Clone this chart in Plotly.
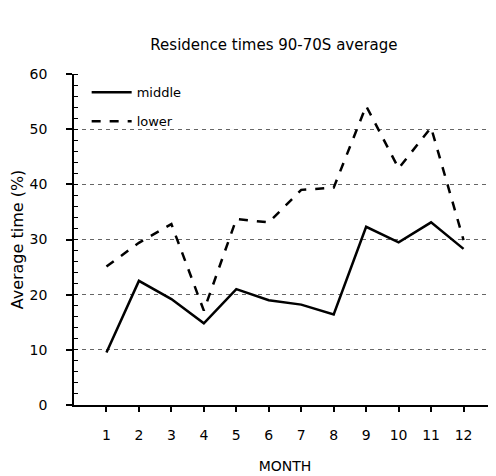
import plotly.graph_objects as go

months = list(range(1, 13))
middle = [9.5, 22.5, 19.2, 14.8, 21.0, 19.0, 18.2, 16.4, 32.3, 29.5, 33.1, 28.3]
lower = [25.1, 29.4, 32.8, 17.1, 33.7, 33.1, 39.0, 39.4, 54.2, 42.9, 50.3, 29.9]
x_tickvals = list(range(1, 14))
x_ticktext = [str(m) for m in months] + [""]

FONT = "DejaVu Sans"

fig = go.Figure()
fig.add_trace(go.Scatter(x=months, y=middle, mode="lines", name="middle",
                         legendgroup="m",
                         line=dict(color="black", width=2.5)))
fig.add_trace(go.Scatter(x=months, y=lower, mode="lines", name="lower",
                         legendgroup="l",
                         line=dict(color="black", width=2.5, dash="dash")))

W, H = 488, 468
fig.update_layout(
    width=W, height=H,
    margin=dict(l=66, r=0, t=66, b=71, autoexpand=False),
    paper_bgcolor="white", plot_bgcolor="white",
    font=dict(family=FONT, size=14, color="black"),
    title=dict(text="Residence times 90-70S average", x=0.545, xanchor="center",
               y=1 - 37 / H, yanchor="middle", font=dict(size=15)),
    showlegend=True,
    legend=dict(x=0.03, y=0.99, xanchor="left", yanchor="top",
                bgcolor="rgba(0,0,0,0)", font=dict(size=13),
                traceorder="grouped", tracegroupgap=9, itemwidth=40),
)
fig.update_xaxes(
    range=[0, 13], tickvals=x_tickvals, ticktext=x_ticktext, automargin=False,
    ticks="outside", ticklen=5, tickwidth=1.5, tickcolor="black",
    showline=True, linecolor="black", linewidth=1.5,
    showgrid=False, zeroline=False, ticklabelstandoff=11,
    title=dict(text="MONTH", standoff=20, font=dict(size=14)),
)
fig.update_yaxes(
    range=[0, 60], dtick=10, tick0=0, automargin=False,
    ticks="outside", ticklen=6, tickwidth=1.5, tickcolor="black",
    showline=True, linecolor="black", linewidth=1.5,
    showgrid=True, gridcolor="#666666", griddash="4px,4px", gridwidth=0.8,
    zeroline=False, ticklabelstandoff=16,
    minor=dict(ticks="inside", dtick=2, ticklen=4, tickcolor="black", tickwidth=1.2, showgrid=False),
    title=dict(text="Average time (%)", standoff=8, font=dict(size=16)),
)

fig.write_html("out.html")
